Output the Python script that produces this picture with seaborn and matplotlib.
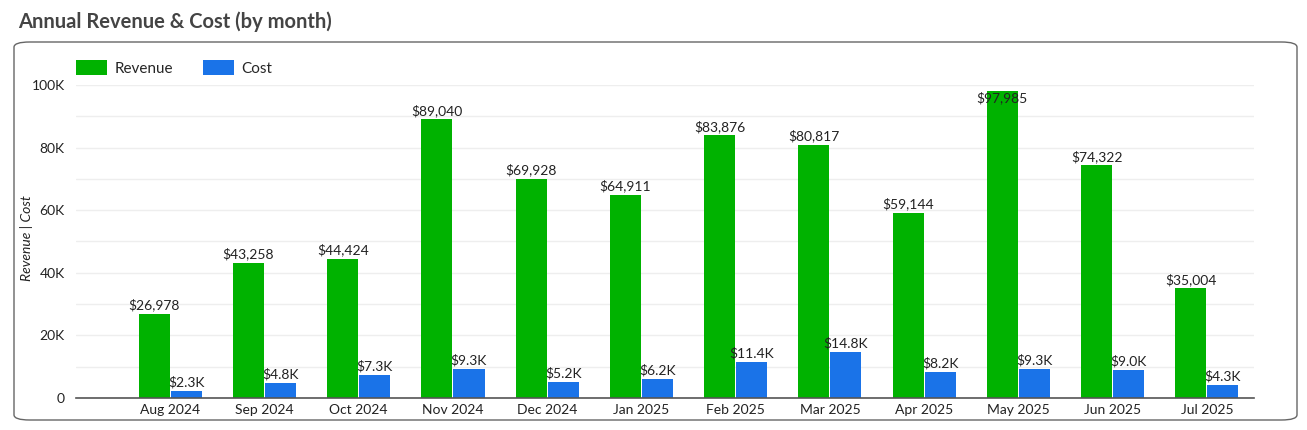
import pandas as pd
import matplotlib.pyplot as plt
import seaborn as sns
from matplotlib.patches import FancyBboxPatch
from matplotlib.ticker import FuncFormatter, MultipleLocator

months = ['Aug 2024', 'Sep 2024', 'Oct 2024', 'Nov 2024', 'Dec 2024', 'Jan 2025',
          'Feb 2025', 'Mar 2025', 'Apr 2025', 'May 2025', 'Jun 2025', 'Jul 2025']
revenue = [26978, 43258, 44424, 89040, 69928, 64911, 83876, 80817, 59144, 97985, 74322, 35004]
cost = [2300, 4800, 7300, 9300, 5200, 6200, 11400, 14800, 8200, 9300, 9000, 4300]

sns.set_theme(style='white')
plt.rcParams['font.family'] = ['Lato', 'DejaVu Sans']

df = pd.DataFrame({
    'month': months * 2,
    'value': revenue + cost,
    'series': ['Revenue'] * len(months) + ['Cost'] * len(months),
})

fig = plt.figure(figsize=(13.07, 4.30), dpi=100)
ax = fig.add_axes([76 / 1307, 32 / 430, (1254 - 76) / 1307, (398 - 85) / 430])

palette = {'Revenue': '#00b200', 'Cost': '#1a73e8'}
sns.barplot(data=df, x='month', y='value', hue='series', palette=palette,
            width=0.68, gap=0.03, ax=ax, saturation=1, edgecolor='none')

ax.set_ylim(0, 100000)
ax.set_xlim(-1.0, 11.5)
ax.yaxis.set_major_locator(MultipleLocator(20000))
ax.yaxis.set_minor_locator(MultipleLocator(10000))
ax.yaxis.set_major_formatter(FuncFormatter(lambda v, p: '0' if v == 0 else f'{int(v / 1000)}K'))
ax.grid(axis='y', which='both', color='#eeeeee', linewidth=1)
ax.set_axisbelow(True)
ax.tick_params(axis='both', which='both', length=0, labelsize=10, colors='#222222')
ax.tick_params(axis='y', pad=8)
ax.tick_params(axis='x', pad=4)
for s in ['top', 'right', 'left']:
    ax.spines[s].set_visible(False)
ax.spines['bottom'].set_color('#555555')
ax.spines['bottom'].set_linewidth(1.2)
ax.set_xlabel('')
ax.set_ylabel('Revenue | Cost', fontsize=10, style='italic', color='#222222')
ax.yaxis.set_label_coords(-0.0365, 0.51)

# value labels
rev_bars, cost_bars = ax.containers[0], ax.containers[1]
for bar, v in zip(rev_bars, revenue):
    x = bar.get_x() + bar.get_width() / 2
    if v > 95000:
        ax.text(x, v, f'${v:,}', ha='center', va='top', fontsize=10, color='#222222')
    else:
        ax.text(x, v + 800, f'${v:,}', ha='center', va='bottom', fontsize=10, color='#222222')
for bar, v in zip(cost_bars, cost):
    x = bar.get_x() + bar.get_width() / 2
    ax.text(x, v + 800, f'${v / 1000:.1f}K', ha='center', va='bottom', fontsize=10, color='#222222')

leg = ax.legend(loc='lower left', bbox_to_anchor=(0, 1.03), ncol=2, frameon=False,
                fontsize=11, handlelength=2.0, handleheight=1.1, columnspacing=2.0,
                borderaxespad=0, borderpad=0, handletextpad=0.5)

fig.text(18 / 1307, 1 - 22 / 430, 'Annual Revenue & Cost (by month)', fontsize=14.5,
         fontweight='bold', color='#444444', va='center', ha='left')

box = FancyBboxPatch((14 / 1307, 10 / 430), (1297 - 14) / 1307, (420 - 42) / 430,
                     boxstyle='round,pad=0,rounding_size=0.012', transform=fig.transFigure,
                     facecolor='none', edgecolor='#666666', linewidth=1.0)
fig.patches.append(box)

fig.savefig('out.png', dpi=100)
